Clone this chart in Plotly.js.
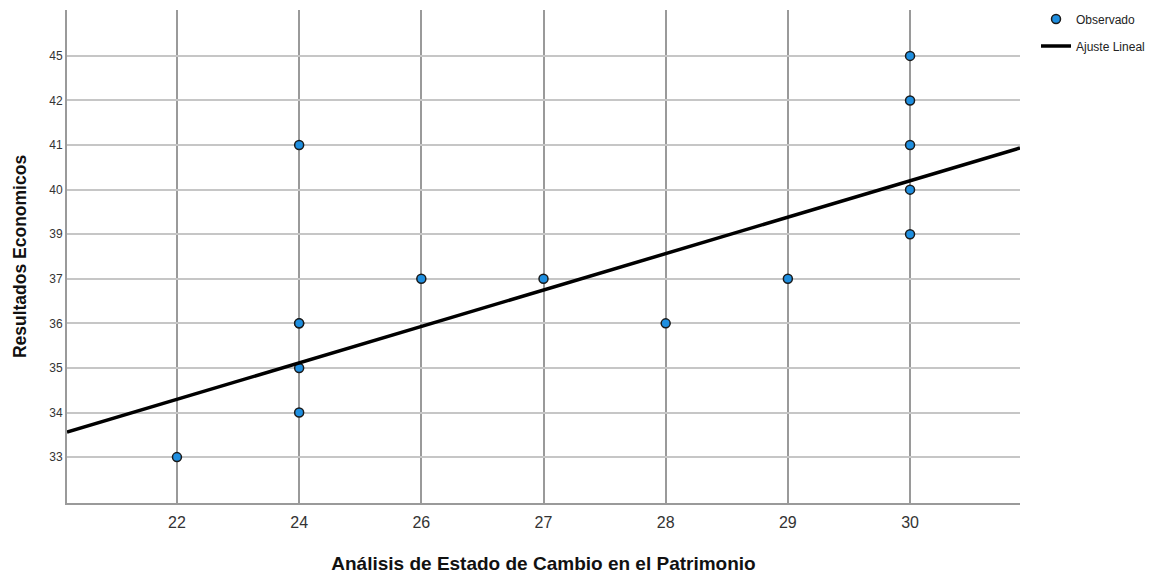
<!DOCTYPE html>
<html>
<head>
<meta charset="utf-8">
<script src="https://cdn.plot.ly/plotly-3.0.1.min.js"></script>
<style>html,body{margin:0;padding:0;background:#fff;}#chart{width:1155px;height:574px;}</style>
</head>
<body>
<div id="chart"></div>
<script>
// Axis categories (evenly spaced in the reference)
const xCategories = [22, 24, 26, 27, 28, 29, 30];
const yCategories = [33, 34, 35, 36, 37, 39, 40, 41, 42, 45];

// Observed points
const obsX = [22, 24, 24, 24, 24, 24, 26, 27, 28, 29, 30, 30, 30, 30, 30];
const obsY = [33, 41, 36, 36, 35, 34, 37, 37, 36, 37, 45, 42, 41, 40, 39];

// Linear fit line (category-index space), evaluated at the axis range ends
const fitIntercept = 1.297;  // y-index at x-index 0
const fitSlope = 0.817;      // y-index per x-index

const xRange = [-0.9, 6.9];
const yRange = [-1.03, 10.03];

const xIdx = obsX.map(v => xCategories.indexOf(v));
const yIdx = obsY.map(v => yCategories.indexOf(v));
const fitX = xRange.slice();
const fitY = fitX.map(x => fitIntercept + fitSlope * x);

const traces = [
  {
    type: 'scatter', mode: 'markers', name: 'Observado', legendgroup: 'obs',
    x: xIdx, y: yIdx,
    marker: {size: 9, color: '#1f8fe0', line: {color: '#1a1a1a', width: 1.5}},
    cliponaxis: false
  },
  {
    type: 'scatter', mode: 'lines', name: 'Ajuste Lineal', legendgroup: 'fit',
    x: fitX, y: fitY,
    line: {color: '#000000', width: 3.5}
  }
];

const layout = {
  width: 1155, height: 574,
  margin: {l: 67, r: 135, t: 10, b: 71, autoexpand: false},
  paper_bgcolor: '#ffffff', plot_bgcolor: '#ffffff',
  showlegend: true,
  legend: {
    x: 1.0168, xanchor: 'left', y: 1.011, yanchor: 'top',
    font: {family: 'Liberation Sans, Arial, sans-serif', size: 12, color: '#222'},
    itemwidth: 30, traceorder: 'grouped', tracegroupgap: 8, bgcolor: 'rgba(0,0,0,0)'
  },
  xaxis: {
    range: xRange,
    tickvals: xCategories.map((v, i) => i),
    ticktext: xCategories.map(String),
    showgrid: true, gridcolor: '#9a9a9a', gridwidth: 2,
    zeroline: false, showline: true, linecolor: '#9a9a9a', linewidth: 2,
    ticks: '', ticklen: 0, ticklabelstandoff: 4,
    tickfont: {family: 'Liberation Sans, Arial, sans-serif', size: 16, color: '#333'},
    title: {text: 'Análisis de Estado de Cambio en el Patrimonio', standoff: 30,
      font: {family: 'Liberation Sans, Arial, sans-serif', size: 19, color: '#111', weight: 'bold'}},
    fixedrange: true
  },
  yaxis: {
    range: yRange,
    tickvals: yCategories.map((v, i) => i),
    ticktext: yCategories.map(String),
    showgrid: true, gridcolor: '#c6c6c6', gridwidth: 2,
    zeroline: false, showline: true, linecolor: '#9a9a9a', linewidth: 2,
    ticks: '', ticklen: 0,
    tickfont: {family: 'Liberation Sans, Arial, sans-serif', size: 12, color: '#333'},
    title: {text: 'Resultados Economicos', standoff: 18,
      font: {family: 'Liberation Sans, Arial, sans-serif', size: 17.5, color: '#111', weight: 'bold'}},
    fixedrange: true
  }
};

Plotly.newPlot('chart', traces, layout, {displayModeBar: false, staticPlot: true});
</script>
</body>
</html>
